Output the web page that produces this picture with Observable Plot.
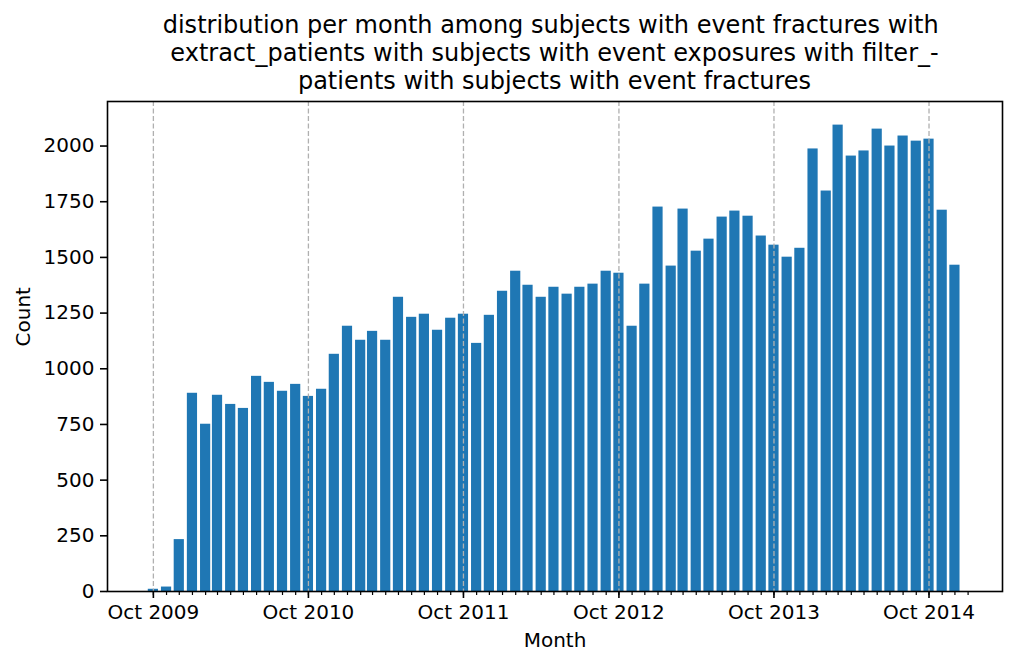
<!DOCTYPE html>
<html>
<head>
<meta charset="utf-8">
<script src="https://cdn.jsdelivr.net/npm/d3@7"></script>
<script src="https://cdn.jsdelivr.net/npm/@observablehq/plot@0.6"></script>
<style>
  html, body { margin: 0; padding: 0; background: white; }
  body { width: 1017px; height: 665px; overflow: hidden; font-family: "DejaVu Sans", sans-serif; }
  #title { box-sizing: border-box; width: 1017px; height: 95px; padding: 11px 15px 0 107px;
           text-align: center; font-size: 24px; line-height: 28px; color: black; white-space: pre; }
  svg { display: block; }
</style>
</head>
<body>
<div id="title">distribution per month among subjects with event fractures with&#160;<br>extract_patients with subjects with event exposures with filter_-<br>patients with subjects with event fractures</div>
<div id="chart"></div>
<script>
// Data
const months = [
  "2009-10","2009-11","2009-12",
  "2010-01","2010-02","2010-03","2010-04","2010-05","2010-06","2010-07","2010-08","2010-09","2010-10","2010-11","2010-12",
  "2011-01","2011-02","2011-03","2011-04","2011-05","2011-06","2011-07","2011-08","2011-09","2011-10","2011-11","2011-12",
  "2012-01","2012-02","2012-03","2012-04","2012-05","2012-06","2012-07","2012-08","2012-09","2012-10","2012-11","2012-12",
  "2013-01","2013-02","2013-03","2013-04","2013-05","2013-06","2013-07","2013-08","2013-09","2013-10","2013-11","2013-12",
  "2014-01","2014-02","2014-03","2014-04","2014-05","2014-06","2014-07","2014-08","2014-09","2014-10","2014-11","2014-12"
];
const counts = [
  10, 20, 233,
  890, 751, 881, 840, 822, 966, 939, 899, 930, 876, 908, 1065,
  1191, 1128, 1168, 1128, 1321, 1231, 1245, 1173, 1227, 1245, 1114, 1240,
  1348, 1438, 1375, 1321, 1366, 1335, 1366, 1380, 1438, 1429, 1191, 1380,
  1726, 1461, 1717, 1528, 1582, 1681, 1708, 1685, 1596, 1555, 1501, 1541,
  1987, 1798, 2094, 1955, 1978, 2076, 2000, 2045, 2022, 2031, 1712, 1465
];
const yTicks = [0, 250, 500, 750, 1000, 1250, 1500, 1750, 2000];
const majorTickMonths = ["2009-10","2010-10","2011-10","2012-10","2013-10","2014-10"];
const xLabel = "Month";
const yLabel = "Count";

const parse = d3.utcParse("%Y-%m");
const data = months.map((m, i) => ({date: parse(m), count: counts[i]}));
const majorTicks = majorTickMonths.map(parse);
const minorTicks = d3.utcMonth.range(data[0].date, d3.utcMonth.offset(data[data.length - 1].date, 2));
const halfBar = 12; // days

const plot = Plot.plot({
  width: 1017,
  height: 570,
  marginTop: 6,
  marginBottom: 74,
  marginLeft: 107,
  marginRight: 15,
  style: {fontFamily: "DejaVu Sans", fontSize: "20px", color: "black", background: "white"},
  x: {type: "utc", domain: [new Date(Date.UTC(2009, 5, 15)), new Date(Date.UTC(2015, 2, 23))], axis: null},
  y: {domain: [0, 2200], axis: null},
  marks: [
    Plot.rectY(data, {
      x1: d => d3.utcDay.offset(d.date, -halfBar),
      x2: d => d3.utcDay.offset(d.date, halfBar),
      y1: 0, y2: "count", fill: "#1f77b4"
    }),
    Plot.gridX(majorTicks, {stroke: "#b0b0b0", strokeOpacity: 1, strokeWidth: 1.3, strokeDasharray: "5,2.5"}),
    Plot.axisX({ticks: minorTicks, tickSize: 4, strokeWidth: 1.2, tickFormat: () => "", label: null}),
    Plot.axisX({ticks: majorTicks, tickSize: 7, strokeWidth: 1.6, tickPadding: 6, tickFormat: d3.utcFormat("%b %Y"), fontSize: 20, label: null}),
    Plot.axisY({ticks: yTicks, tickSize: 7, strokeWidth: 1.6, tickPadding: 6, tickFormat: d3.format("d"), fontSize: 20, label: null}),
    Plot.frame({stroke: "black", strokeWidth: 1.6}),
    Plot.text([xLabel], {frameAnchor: "bottom", dy: 55, fontSize: 20, fill: "black"}),
    Plot.text([yLabel], {frameAnchor: "left", rotate: -90, dx: -84, fontSize: 20, fill: "black"})
  ]
});
document.getElementById("chart").appendChild(plot);
</script>
</body>
</html>
